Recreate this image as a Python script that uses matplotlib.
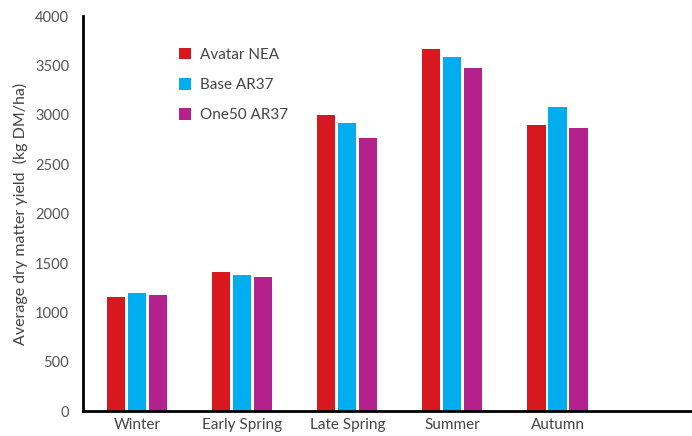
import numpy as np
import matplotlib.pyplot as plt
from matplotlib.patches import Patch

plt.rcParams['font.family'] = ['Lato', 'DejaVu Sans']

# ------- Data -------

seasons = ['Winter', 'Early Spring', 'Late Spring', 'Summer', 'Autumn']
avatar_nea = [1155, 1408, 2997, 3666, 2896]
base_ar37 = [1195, 1377, 2916, 3585, 3078]
one50_ar37 = [1175, 1357, 2765, 3473, 2866]

series_names = ['Avatar NEA', 'Base AR37', 'One50 AR37']
series_colors = ['#D7191F', '#00AEEF', '#B4208C']
yticks = [0, 500, 1000, 1500, 2000, 2500, 3000, 3500, 4000]


# ------- Figure -------

fig = plt.figure(figsize=(6.92, 4.36), dpi=100)
ax = fig.add_axes([0.12, 0.057, 0.88, 0.906])

x = np.arange(len(seasons))
width = 0.172
offset = 0.2
for i, (vals, col) in enumerate(zip([avatar_nea, base_ar37, one50_ar37], series_colors)):
    ax.bar(x + (i - 1) * offset, vals, width, color=col, linewidth=0)


# ------- Axes -------

ax.set_xlim(-0.515, 5.28)
ax.set_ylim(0, 4000)
ax.set_yticks(yticks)
ax.set_yticklabels([str(t) for t in yticks])
ax.set_xticks(x)
ax.set_xticklabels(seasons)

for s in ['top', 'right']:
    ax.spines[s].set_visible(False)
for s in ['left', 'bottom']:
    ax.spines[s].set_linewidth(2)
    ax.spines[s].set_color('black')

ax.tick_params(axis='y', length=0, pad=10, labelsize=10.5, labelcolor='#555555')
ax.tick_params(axis='x', length=0, pad=5, labelsize=11, labelcolor='#444444')
ax.set_ylabel('Average dry matter yield  (kg DM/ha)', fontsize=11.5, color='#444444', labelpad=5)


# ------- Legend -------

handles = [Patch(facecolor=c, edgecolor='none') for c in series_colors]
ax.legend(handles, series_names, loc='upper left', bbox_to_anchor=(0.135, 0.955),
          frameon=False, fontsize=11, labelcolor='#444444',
          handlelength=0.8, handleheight=0.8, handletextpad=0.6, labelspacing=1.05)

fig.savefig('out.png', dpi=100)
